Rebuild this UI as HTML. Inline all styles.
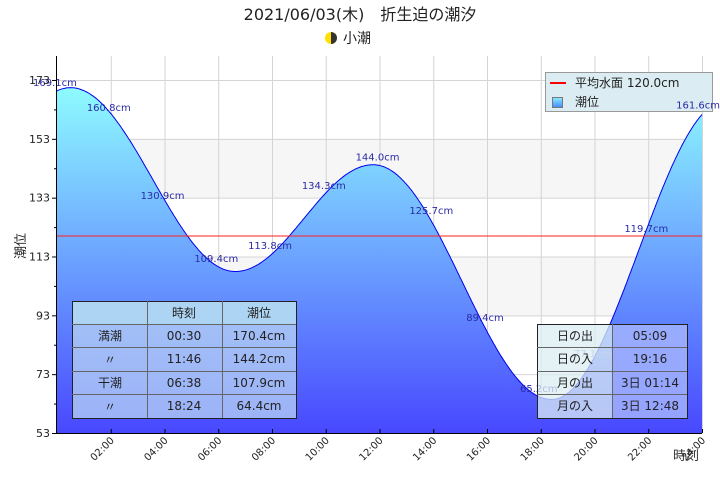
<!DOCTYPE html>
<html><head><meta charset="utf-8"><style>
body{margin:0;background:#fff;width:720px;height:480px;overflow:hidden}
svg text{font-family:"DejaVu Sans","Noto Sans CJK JP",sans-serif}
</style></head><body>
<svg id="s" width="720" height="480" xmlns="http://www.w3.org/2000/svg">
<defs>
<linearGradient id="g" x1="0" y1="80" x2="0" y2="433" gradientUnits="userSpaceOnUse">
<stop offset="0" stop-color="#90ffff"/><stop offset="1" stop-color="#4848ff"/></linearGradient>
<linearGradient id="lg" x1="0" y1="0" x2="0" y2="1"><stop offset="0" stop-color="#8ef"/><stop offset="1" stop-color="#48f"/></linearGradient>
</defs>
<g id="bands"></g>
<g id="grid" stroke="#d4d4d4" stroke-width="1"></g>
<path id="area" fill="url(#g)" stroke="none"/>
<path id="line" fill="none" stroke="#0000ee" stroke-width="1"/>
<line x1="57" y1="236" x2="702" y2="236" stroke="#ff2020" stroke-width="1"/>
<rect x="545.5" y="72.5" width="167" height="39" fill="#dbedf3" stroke="#999"/>
<line x1="550" y1="83" x2="566" y2="83" stroke="#f00" stroke-width="2"/>
<text x="575" y="87" font-size="12" fill="#222">平均水面 120.0cm</text>
<rect x="552.5" y="97.5" width="10" height="10" fill="url(#lg)" stroke="#777"/>
<text x="575" y="106" font-size="12" fill="#222">潮位</text>
<g id="vlab" font-size="10" fill="#2a2aa8" text-anchor="middle"></g>
<g id="axes" stroke="#000" stroke-width="1"></g>
<g id="tl" font-size="11" fill="#222"></g>
<text x="360" y="20" font-size="16" text-anchor="middle" fill="#222">2021/06/03(木)　折生迫の潮汐</text>
<circle cx="331" cy="38" r="6" fill="#ffe000"/><path d="M331 32 A6 6 0 0 1 331 44 Z" fill="#333"/>
<text x="343" y="43" font-size="14" fill="#222">小潮</text>
<text transform="translate(25,246) rotate(-90)" font-size="13" text-anchor="middle" fill="#222">潮位</text>
<text x="686" y="460" font-size="13" text-anchor="middle" fill="#333">時刻</text>
<g font-size="12" fill="#222" text-anchor="middle">
<rect x="72" y="301" width="224" height="117" fill="#b8d4f4" fill-opacity="0.75"/>
<rect x="72" y="301" width="224" height="23" fill="#b0d8f0" fill-opacity="0.8"/>
<g stroke="#666" fill="none"><rect x="72.5" y="301.5" width="224" height="117" stroke="#222"/>
<path d="M147.5 301v117M222.5 301v117M72 324.5h224M72 347.5h224M72 371.5h224M72 394.5h224"/></g>
<text x="184" y="317">時刻</text><text x="259" y="317">潮位</text>
<text x="110" y="340">満潮</text><text x="184" y="340">00:30</text><text x="259" y="340">170.4cm</text>
<text x="110" y="364">〃</text><text x="184" y="363">11:46</text><text x="259" y="363">144.2cm</text>
<text x="110" y="387">干潮</text><text x="184" y="387">06:38</text><text x="259" y="387">107.9cm</text>
<text x="110" y="411">〃</text><text x="184" y="410">18:24</text><text x="259" y="410">64.4cm</text>
<rect x="537" y="324" width="75" height="94" fill="#dbedf3" fill-opacity="0.75"/>
<rect x="612" y="324" width="75" height="94" fill="#a8b8ff" fill-opacity="0.8"/>
<g stroke="#666" fill="none"><rect x="537.5" y="324.5" width="150" height="94" stroke="#222"/>
<path d="M612.5 324v94M537 347.5h150M537 371.5h150M537 394.5h150"/></g>
<text x="575" y="340">日の出</text><text x="650" y="340">05:09</text>
<text x="575" y="363">日の入</text><text x="650" y="363">19:16</text>
<text x="575" y="387">月の出</text><text x="650" y="387">3日 01:14</text>
<text x="575" y="410">月の入</text><text x="650" y="410">3日 12:48</text>
</g>
</svg>
<script>
const X=t=>57+t*645/24, Y=v=>80+(173-v)*353/120;
const ns="http://www.w3.org/2000/svg";
function el(p,tag,a,txt){const e=document.createElementNS(ns,tag);for(const k in a)e.setAttribute(k,a[k]);if(txt!=null)e.textContent=txt;document.getElementById(p).appendChild(e);return e;}
[[133,153],[93,113]].forEach(b=>el("bands","rect",{x:57,y:Y(b[1]),width:645,height:Y(b[0])-Y(b[1]),fill:"#f6f6f6"}));
for(let v=53;v<=173;v+=20)el("grid","line",{x1:57,x2:702,y1:Y(v)+.5,y2:Y(v)+.5});
for(let h=2;h<=24;h+=2)el("grid","line",{x1:X(h)+.5,x2:X(h)+.5,y1:56,y2:433});
const ex=[[-5.8,100],[0.5,170.4],[6.633,107.9],[11.767,144.2],[18.4,64.4],[24.9,166]];
function f(t){for(let i=0;i<ex.length-1;i++){const [a,va]=ex[i],[b,vb]=ex[i+1];if(t>=a&&t<=b){const p=(t-a)/(b-a);return va+(vb-va)*(1-Math.cos(Math.PI*p))/2;}}return 0;}
let d="";for(let i=0;i<=480;i++){const t=i*24/480;d+=(i?"L":"M")+X(t).toFixed(1)+" "+Y(f(t)).toFixed(1);}
document.getElementById("line").setAttribute("d",d);
document.getElementById("area").setAttribute("d",d+"L702 433L57 433Z");
const lv=[169.1,160.8,130.9,109.4,113.8,134.3,144.0,125.7,89.4,65.2,77.1,119.7,161.6];
lv.forEach((v,i)=>{let x=X(i*2)-2;const a={x:x,y:Y(v)-5,fill:i==10?"#8090e0":"#2a2aa8"};if(i==0){a.x=33;a["text-anchor"]="start";a.y=86;}if(i==12){a.x=720;a["text-anchor"]="end";}el("vlab","text",a,v.toFixed(1)+"cm");});
el("axes","line",{x1:56.5,x2:56.5,y1:56,y2:433});el("axes","line",{x1:56,x2:702,y1:433.5,y2:433.5});
for(let v=53;v<=173;v+=10){el("axes","line",{x1:v%20==13?52:54,x2:57,y1:Y(v)+.5,y2:Y(v)+.5});}
for(let v=53;v<=173;v+=20)el("tl","text",{x:50,y:Y(v)+4,"text-anchor":"end"},v);
for(let h=2;h<=24;h+=2){el("axes","line",{x1:X(h)+.5,x2:X(h)+.5,y1:429,y2:433});
 el("tl","text",{transform:`translate(${X(h)+4},${441}) rotate(-45)`,"text-anchor":"end","font-size":"10"},String(h).padStart(2,"0")+":00");}
</script>
</body></html>
